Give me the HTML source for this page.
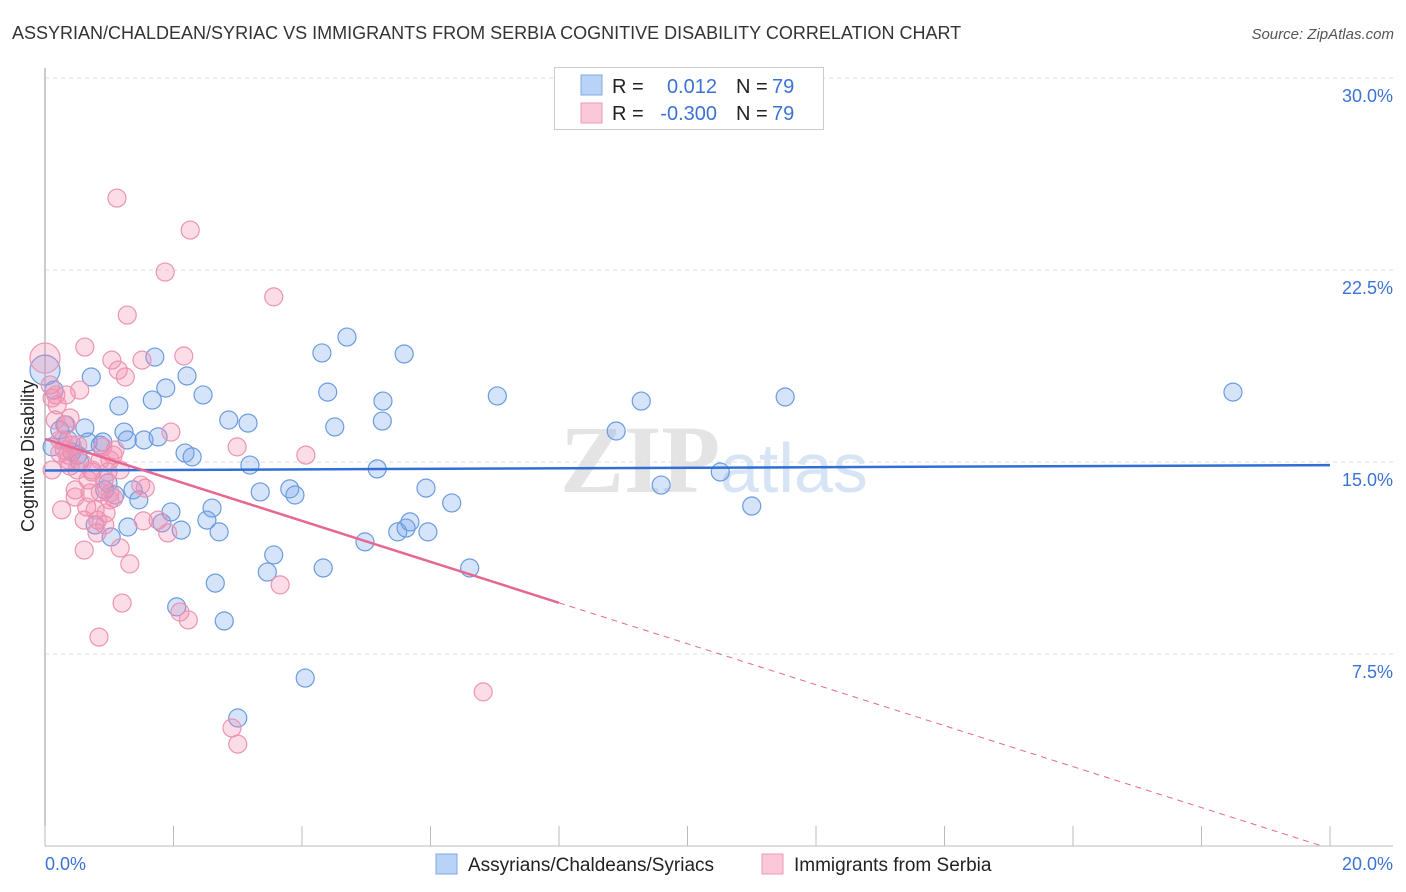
<!DOCTYPE html>
<html><head><meta charset="utf-8"><style>
body{margin:0;background:#fff;font-family:"Liberation Sans",sans-serif}
svg{display:block}
</style></head><body>
<svg id="chart" width="1406" height="892">
<text x="12" y="39" font-size="18" fill="#333">ASSYRIAN/CHALDEAN/SYRIAC VS IMMIGRANTS FROM SERBIA COGNITIVE DISABILITY CORRELATION CHART</text>
<text x="1394" y="39" font-size="15" fill="#555" font-style="italic" text-anchor="end">Source: ZipAtlas.com</text>
<text x="720" y="492" font-size="96" fill="#e4e4e4" text-anchor="end" font-family="Liberation Serif,serif" font-weight="bold">ZIP</text>
<text x="720" y="492" font-size="70" fill="#d6e4f5">atlas</text>
<g id="grid"></g>
<line x1="45" y1="68" x2="45" y2="846" stroke="#999"/>
<line x1="45" y1="846" x2="1393" y2="846" stroke="#bbb"/>
<g id="xticks"></g>
<text transform="translate(34,456) rotate(-90)" font-size="18" fill="#222" text-anchor="middle">Cognitive Disability</text>
<text x="45" y="870" font-size="18" fill="#3b73d4">0.0%</text>
<text x="1393" y="870" font-size="18" fill="#3b73d4" text-anchor="end">20.0%</text>
<g id="pts"></g>
<g id="lines"></g>
<g>
<rect x="554.5" y="67.5" width="269" height="62" fill="#fff" stroke="#ccc"/>
<rect x="581" y="75" width="21" height="20" fill="#b8d3f5" stroke="#7ea8e0"/>
<rect x="581" y="103" width="21" height="20" fill="#fac8d8" stroke="#eb9ab5"/>
<text x="612" y="93" font-size="20" fill="#222">R =</text>
<text x="717" y="93" font-size="20" fill="#3b73d4" text-anchor="end">0.012</text>
<text x="736" y="93" font-size="20" fill="#222">N =</text>
<text x="772" y="93" font-size="20" fill="#3b73d4">79</text>
<text x="612" y="120" font-size="20" fill="#222">R =</text>
<text x="717" y="120" font-size="20" fill="#3b73d4" text-anchor="end">-0.300</text>
<text x="736" y="120" font-size="20" fill="#222">N =</text>
<text x="772" y="120" font-size="20" fill="#3b73d4">79</text>
</g>
<g>
<rect x="436" y="854" width="21" height="20" fill="#b8d3f5" stroke="#7ea8e0"/>
<text x="468" y="871" font-size="19" fill="#222">Assyrians/Chaldeans/Syriacs</text>
<rect x="762" y="854" width="21" height="20" fill="#fac8d8" stroke="#eb9ab5"/>
<text x="794" y="871" font-size="19" fill="#222">Immigrants from Serbia</text>
</g>
</svg>
<script>
const yTicks=[7.5,15,22.5,30];
const yTickLabels=["7.5%","15.0%","22.5%","30.0%"];
const xTickVals=[0,2,4,6,8,10,12,14,16,18,20];
const bluePx=[[45,370],[52,447],[54,390],[60,430],[65,425],[68,440],[72,452],[78,455],[80,462],[85,428],[88,442],[91,377],[95,525],[100,445],[103,442],[105,490],[108,483],[111,537],[115,495],[119,406],[124,432],[127,440],[128,527],[133,490],[139,500],[144,440],[152,400],[155,357],[158,437],[162,523],[166,388],[171,512],[177,607],[181,530],[185,453],[187,376],[192,457],[203,395],[207,520],[212,508],[215,583],[219,532],[224,621],[229,420],[238,718],[248,423],[250,465],[260,492],[274,555],[267,572],[290,489],[295,495],[305,678],[322,353],[323,568],[328,392],[335,427],[347,337],[365,542],[377,469],[382,421],[383,401],[398,532],[404,354],[406,528],[410,522],[426,488],[428,532],[452,503],[470,568],[497,396],[616,431],[641,401],[661,485],[720,472],[752,506],[785,397],[1233,392]];
const pinkPx=[[45,358],[50,385],[52,398],[55,420],[57,405],[60,440],[62,510],[64,450],[66,395],[68,460],[70,418],[72,445],[75,490],[78,445],[80,390],[82,463],[84,550],[85,347],[87,507],[88,480],[90,493],[92,472],[95,510],[97,533],[99,637],[100,492],[103,447],[105,525],[106,513],[108,472],[110,493],[112,360],[114,498],[115,450],[117,198],[118,370],[120,548],[122,603],[125,377],[127,315],[130,564],[141,485],[142,360],[143,521],[145,488],[158,520],[165,272],[168,533],[171,432],[180,612],[184,356],[188,620],[190,230],[232,728],[237,447],[238,744],[274,297],[280,585],[306,455],[483,692],[52,470],[60,453],[70,466],[77,470],[92,470],[98,520],[104,480],[110,460],[113,455],[120,470],[84,520],[75,497],[63,440],[66,425],[68,455],[56,395],[100,460],[110,500]];
// data in % units
const blueX=bluePx.map(p=>+((p[0]-45)/64.25).toFixed(2));
const blueY=bluePx.map(p=>+((846-p[1])/25.6).toFixed(2));
const pinkX=pinkPx.map(p=>+((p[0]-45)/64.25).toFixed(2));
const pinkY=pinkPx.map(p=>+((846-p[1])/25.6).toFixed(2));
const blueTrend=[14.67,14.88];
const pinkTrend=[15.9,-0.1];
const pinkSolidEnd=8;
const X=v=>45+v*64.25, Y=v=>846-v*25.6;
const NS="http://www.w3.org/2000/svg";
function mk(t,a,parent){const e=document.createElementNS(NS,t);for(const k in a)e.setAttribute(k,a[k]);parent.appendChild(e);return e;}
const grid=document.getElementById('grid');
yTicks.forEach((v,i)=>{
 const l=mk('line',{x1:45,x2:1393,y1:Y(v),y2:Y(v),stroke:'#ddd','stroke-dasharray':'4,4'},grid);
 
 
 const t=mk('text',{x:1393,y:Y(v)+24,'font-size':18,fill:'#3b73d4','text-anchor':'end'},grid);
 t.textContent=yTickLabels[i];
 
 
});
const xt=document.getElementById('xticks');
xTickVals.forEach(v=>{
 const l=mk('line',{x1:X(v),x2:X(v),y1:826,y2:846,stroke:'#bbb'},xt);
 
 
});
const pts=document.getElementById('pts');
blueX.forEach((x,i)=>{
 const c=mk('circle',{cx:X(x),cy:Y(blueY[i]),r:i==0?15:9,fill:'rgba(120,165,235,0.3)',stroke:'#6a9be0','stroke-width':1.2},pts);
 
 
});
pinkX.forEach((x,i)=>{
 const c=mk('circle',{cx:X(x),cy:Y(pinkY[i]),r:i==0?15:9,fill:'rgba(245,140,175,0.3)',stroke:'#eb94b2','stroke-width':1.2},pts);
 
 
});
const lg=document.getElementById('lines');
const bl=mk('line',{x1:X(0),y1:Y(blueTrend[0]),x2:X(20),y2:Y(blueTrend[1]),stroke:'#2f6fd6','stroke-width':2.5},lg);


const slope=(pinkTrend[1]-pinkTrend[0])/20;
const ps=mk('line',{x1:X(0),y1:Y(pinkTrend[0]),x2:X(pinkSolidEnd),y2:Y(pinkTrend[0]+slope*pinkSolidEnd),stroke:'#e56792','stroke-width':2.5},lg);


const xEnd=-pinkTrend[0]/slope;
const pd=mk('line',{x1:X(pinkSolidEnd),y1:Y(pinkTrend[0]+slope*pinkSolidEnd),x2:X(xEnd),y2:Y(0),stroke:'#e56792','stroke-width':1,'stroke-dasharray':'6,5'},lg);


</script>
</body></html>
